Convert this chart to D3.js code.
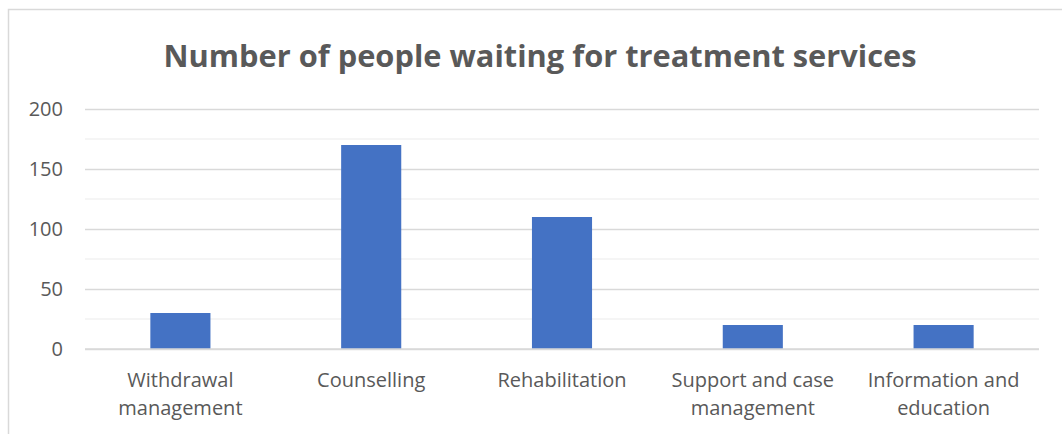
<!DOCTYPE html>
<html>
<head>
<meta charset="utf-8">
<script src="https://cdn.jsdelivr.net/npm/d3@7"></script>
<style>
  html, body { margin: 0; padding: 0; background: #fff; }
  svg { display: block; }
  text { font-family: "Open Sans", "DejaVu Sans", sans-serif; fill: #595959; }
</style>
</head>
<body>
<svg id="chart" width="1062" height="434"></svg>
<script>
// Chart data
const title = "Number of people waiting for treatment services";
const categories = [
  "Withdrawal management",
  "Counselling",
  "Rehabilitation",
  "Support and case management",
  "Information and education"
];
const waiting = [30, 170, 110, 20, 20];
const yTicks = [0, 50, 100, 150, 200];
const yMinorTicks = [25, 75, 125, 175];

const W = 1062, H = 434;
const plot = { left: 85, right: 1039, top: 109, bottom: 349 };

const svg = d3.select("#chart");

// Chart area border
svg.append("rect")
  .attr("x", 8.5).attr("y", 9.5)
  .attr("width", W + 10).attr("height", H + 10)
  .attr("fill", "#fff")
  .attr("stroke", "#d9d9d9")
  .attr("stroke-width", 1.5);

const x = d3.scaleBand()
  .domain(categories)
  .range([plot.left, plot.right])
  .padding(0);

const y = d3.scaleLinear()
  .domain([0, 200])
  .range([plot.bottom, plot.top]);

// Minor gridlines
svg.append("g")
  .selectAll("line")
  .data(yMinorTicks)
  .join("line")
  .attr("x1", plot.left).attr("x2", plot.right)
  .attr("y1", d => y(d)).attr("y2", d => y(d))
  .attr("stroke", "#f2f2f2")
  .attr("stroke-width", 1.5);

// Major gridlines via the y axis
const yAxis = d3.axisLeft(y)
  .tickValues(yTicks)
  .tickSize(-(plot.right - plot.left))
  .tickPadding(22)
  .tickFormat(d3.format("d"));

const gy = svg.append("g")
  .attr("transform", `translate(${plot.left},0)`)
  .call(yAxis);
gy.select(".domain").remove();
gy.selectAll(".tick line")
  .attr("stroke", "#d9d9d9")
  .attr("stroke-width", 1.5);
gy.selectAll(".tick text")
  .style("font-size", "20px")
  .attr("fill", "#595959");

// Bars
const barFrac = 0.315;
svg.append("g")
  .selectAll("rect")
  .data(categories)
  .join("rect")
  .attr("x", d => x(d) + x.bandwidth() * (1 - barFrac) / 2)
  .attr("width", x.bandwidth() * barFrac)
  .attr("y", (d, i) => y(waiting[i]))
  .attr("height", (d, i) => y(0) - y(waiting[i]))
  .attr("fill", "#4472c4");

// Baseline
svg.append("line")
  .attr("x1", plot.left).attr("x2", plot.right)
  .attr("y1", y(0)).attr("y2", y(0))
  .attr("stroke", "#d9d9d9")
  .attr("stroke-width", 1.5);

// Category labels, wrapped to fit each band
const labelG = svg.append("g");
const maxLabelWidth = 180;
categories.forEach(cat => {
  const cx = x(cat) + x.bandwidth() / 2;
  const t = labelG.append("text")
    .attr("x", cx)
    .attr("text-anchor", "middle")
    .style("font-size", "20px");
  const words = cat.split(" ");
  const lines = [];
  let line = [];
  const probe = labelG.append("text").style("font-size", "20px");
  words.forEach(w => {
    const trial = line.concat([w]).join(" ");
    probe.text(trial);
    if (line.length && probe.node().getComputedTextLength() > maxLabelWidth) {
      lines.push(line.join(" "));
      line = [w];
    } else {
      line.push(w);
    }
  });
  lines.push(line.join(" "));
  probe.remove();
  lines.forEach((ln, i) => {
    t.append("tspan")
      .attr("x", cx)
      .attr("y", 387 + i * 28)
      .text(ln);
  });
});

// Title
svg.append("text")
  .attr("x", 540)
  .attr("y", 67)
  .attr("text-anchor", "middle")
  .attr("textLength", 753)
  .attr("lengthAdjust", "spacingAndGlyphs")
  .style("font-size", "31px")
  .style("font-weight", "bold")
  .text(title);
</script>
</body>
</html>
